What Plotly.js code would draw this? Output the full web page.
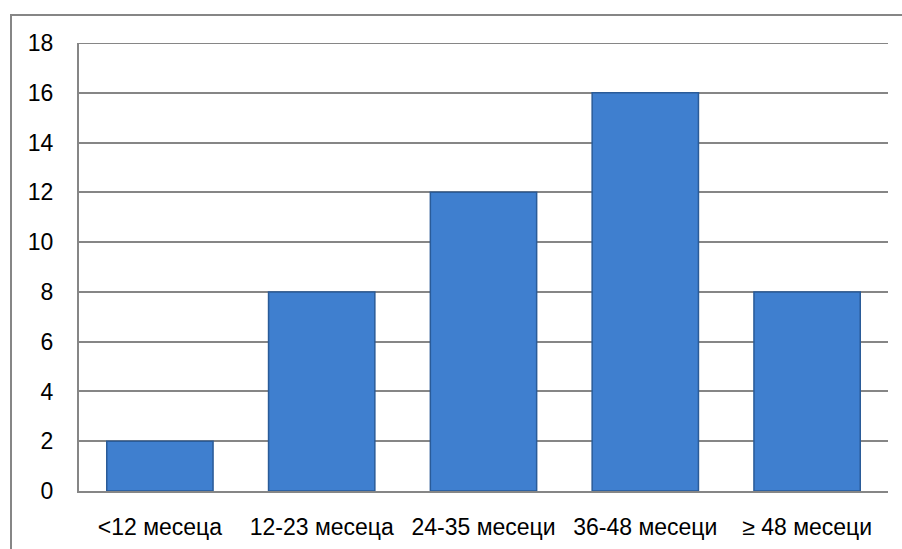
<!DOCTYPE html>
<html>
<head>
<meta charset="utf-8">
<script src="https://cdn.plot.ly/plotly-3.0.1.min.js"></script>
<style>
html,body{margin:0;padding:0;background:#fff;}
#wrap{position:relative;width:902px;height:549px;overflow:hidden;}
#frame{position:absolute;left:10px;top:14px;width:900px;height:560px;border-left:2px solid #868686;border-top:2px solid #868686;pointer-events:none;}
#chart{position:absolute;left:0;top:0;width:902px;height:549px;}
</style>
</head>
<body>
<div id="wrap">
<div id="chart"></div>
<div id="frame"></div>
</div>
<script>
const categories = ["<12 месеца", "12-23 месеца", "24-35 месеци", "36-48 месеци", "≥ 48 месеци"];
const counts = [2, 8, 12, 16, 8];
const yTicks = [0, 2, 4, 6, 8, 10, 12, 14, 16, 18];

const trace = {
  type: "bar",
  x: categories,
  y: counts,
  marker: {
    color: "#3f7fcf",
    line: {color: "#2a5b98", width: 1.5}
  },
  hoverinfo: "x+y"
};

const layout = {
  width: 902,
  height: 549,
  margin: {l: 79, r: 14, t: 43, b: 58},
  paper_bgcolor: "rgba(0,0,0,0)",
  plot_bgcolor: "#ffffff",
  bargap: 0.343,
  showlegend: false,
  font: {family: "Liberation Sans, Arial, sans-serif", size: 23, color: "#000000"},
  xaxis: {
    type: "category",
    showgrid: false,
    showline: true,
    linecolor: "#868686",
    linewidth: 2,
    ticks: "",
    ticklabelstandoff: 14,
    tickfont: {size: 23},
    zeroline: false,
    fixedrange: true
  },
  yaxis: {
    range: [0, 18],
    tickvals: yTicks,
    ticktext: yTicks.map(String),
    showgrid: true,
    gridcolor: "#868686",
    gridwidth: 2,
    showline: true,
    linecolor: "#868686",
    linewidth: 2,
    ticks: "",
    ticklabelstandoff: 19,
    tickfont: {size: 23},
    zeroline: false,
    fixedrange: true
  },
  shapes: [{
    type: "line", xref: "paper", yref: "y",
    x0: 0, x1: 1, y0: 18, y1: 18,
    line: {color: "#868686", width: 2}
  }]
};

Plotly.newPlot("chart", [trace], layout, {displayModeBar: false, staticPlot: true});
</script>
</body>
</html>
